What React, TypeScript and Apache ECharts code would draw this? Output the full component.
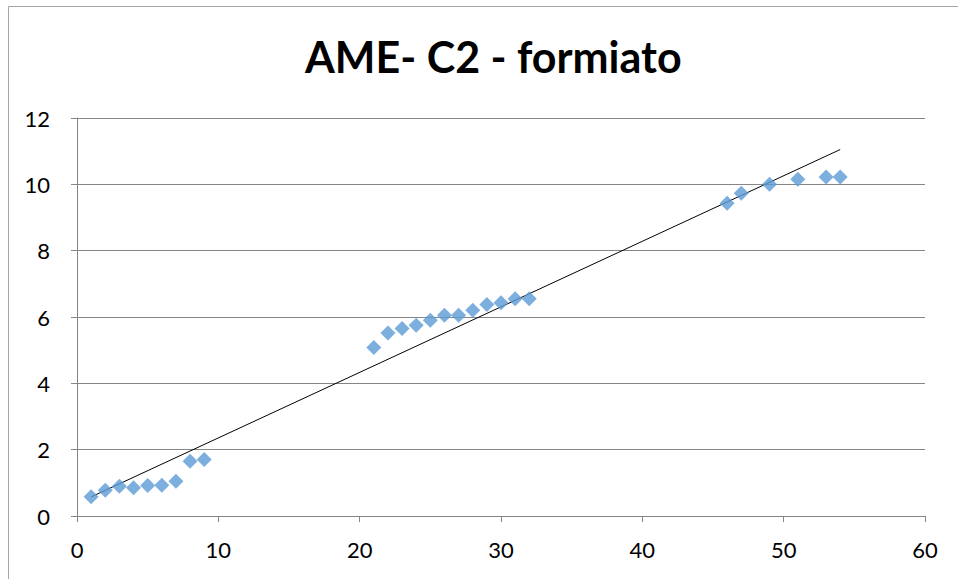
import React, { useEffect, useRef } from "react";
import * as echarts from "echarts";

const titleText = "AME- C2 - formiato";
const xValues = [1, 2, 3, 4, 5, 6, 7, 8, 9, 21, 22, 23, 24, 25, 26, 27, 28, 29, 30, 31, 32, 46, 47, 49, 51, 53, 54];
const yValues = [0.58, 0.78, 0.9, 0.85, 0.92, 0.93, 1.05, 1.65, 1.7, 5.08, 5.52, 5.65, 5.75, 5.9, 6.05, 6.05, 6.2, 6.38, 6.43, 6.55, 6.55, 9.43, 9.73, 10.0, 10.15, 10.22, 10.22];

function linearFit(xs: number[], ys: number[]) {
  const n = xs.length;
  const mx = xs.reduce((a, b) => a + b, 0) / n;
  const my = ys.reduce((a, b) => a + b, 0) / n;
  let sxy = 0, sxx = 0;
  for (let i = 0; i < n; i++) {
    sxy += (xs[i] - mx) * (ys[i] - my);
    sxx += (xs[i] - mx) * (xs[i] - mx);
  }
  const slope = sxy / sxx;
  return { slope, intercept: my - slope * mx };
}

export default function App() {
  const ref = useRef<HTMLDivElement>(null);
  useEffect(() => {
    document.body.style.margin = "0";
    const chart = echarts.init(ref.current!, null, { renderer: "svg" });
    const fit = linearFit(xValues, yValues);
    const xMin = Math.min(...xValues);
    const xMax = Math.max(...xValues);
    const trend = [
      [xMin, fit.intercept + fit.slope * xMin],
      [xMax, fit.intercept + fit.slope * xMax],
    ];
    const font = "Lato, 'Open Sans', sans-serif";
    chart.setOption({
      animation: false,
      backgroundColor: "#ffffff",
      title: {
        text: titleText,
        left: 300,
        top: 30,
        textStyle: { fontFamily: font, fontWeight: "bold", fontSize: 43, color: "#000" },
      },
      graphic: [
        {
          type: "rect",
          shape: { x: 8.5, y: 6.5, width: 970, height: 600 },
          style: { fill: "none", stroke: "#a6a6a6", lineWidth: 1 },
          silent: true,
        },
      ],
      grid: { left: 77, right: 33, top: 118, bottom: 63, containLabel: false },
      xAxis: {
        type: "value",
        min: 0,
        max: 60,
        interval: 10,
        axisLine: { show: true, lineStyle: { color: "#868686" } },
        axisTick: { show: true, length: 6, lineStyle: { color: "#868686" } },
        splitLine: { show: false },
        axisLabel: { fontFamily: font, fontSize: 22, color: "#000", margin: 22 },
      },
      yAxis: {
        type: "value",
        min: 0,
        max: 12,
        interval: 2,
        axisLine: { show: true, lineStyle: { color: "#868686" } },
        axisTick: { show: true, length: 6, lineStyle: { color: "#868686" } },
        splitLine: { show: true, lineStyle: { color: "#868686" } },
        axisLabel: { fontFamily: font, fontSize: 22, color: "#000", margin: 27 },
      },
      series: [
        {
          type: "scatter",
          data: xValues.map((x, i) => [x, yValues[i]]),
          symbol: "diamond",
          symbolSize: 15,
          itemStyle: { color: "#5b9bd5" },
          z: 3,
        },
        {
          type: "line",
          data: trend,
          showSymbol: false,
          symbol: "none",
          lineStyle: { color: "#000", width: 1 },
          z: 2,
        },
      ],
    });
    return () => chart.dispose();
  }, []);
  return <div ref={ref} style={{ width: 958, height: 579 }} />;
}
